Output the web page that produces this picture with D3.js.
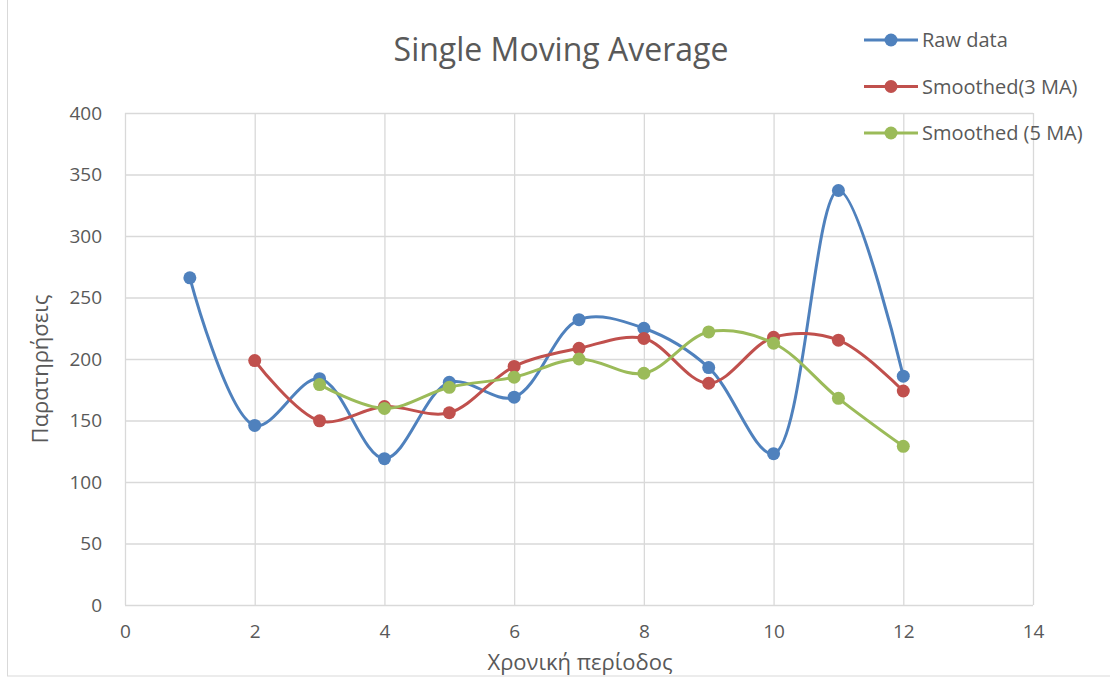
<!DOCTYPE html>
<html>
<head>
<meta charset="utf-8">
<script src="https://cdn.jsdelivr.net/npm/d3@7"></script>
<style>
  body { margin: 0; background: #fff; }
  text { font-family: "Open Sans", "Noto Sans", sans-serif; fill: #595959; }
</style>
</head>
<body>
<svg width="1110" height="679"></svg>
<script>
// chart data
var periods = [1, 2, 3, 4, 5, 6, 7, 8, 9, 10, 11, 12];
var rawData = [266, 146, 184, 119, 181, 169, 232, 225, 193, 123, 337, 186];
var ma3 = [null, 198.7, 149.7, 161.3, 156.3, 194, 208.7, 216.7, 180.3, 217.7, 215.3, 174];
var ma5 = [null, null, 179.2, 159.8, 177, 185.2, 200, 188.4, 222, 212.8, 168, 129];
var xTicks = [0, 2, 4, 6, 8, 10, 12, 14];
var yTicks = [0, 50, 100, 150, 200, 250, 300, 350, 400];
var seriesNames = ["Raw data", "Smoothed(3 MA)", "Smoothed (5 MA)"];
var colors = ["#4f81bd", "#c0504d", "#9bbb59"];

var svg = d3.select("svg");

// outer frame
svg.append("rect")
  .attr("x", 7.5).attr("y", -2)
  .attr("width", 1120).attr("height", 678)
  .attr("fill", "none").attr("stroke", "#d9d9d9");

var pLeft = 125, pRight = 1033, pTop = 113, pBottom = 605;

var x = d3.scaleLinear().domain([0, 14]).range([pLeft, pRight]);
var y = d3.scaleLinear().domain([0, 400]).range([pBottom, pTop]);

// grid
svg.append("g").selectAll("line").data(yTicks).enter().append("line")
  .attr("x1", pLeft).attr("x2", pRight)
  .attr("y1", function(d){ return y(d) + 0.5 }).attr("y2", function(d){ return y(d) + 0.5 })
  .attr("stroke", "#d9d9d9").attr("stroke-width", 1.3);
svg.append("g").selectAll("line").data(xTicks).enter().append("line")
  .attr("x1", function(d){ return x(d) + 0.5 }).attr("x2", function(d){ return x(d) + 0.5 })
  .attr("y1", pTop).attr("y2", pBottom)
  .attr("stroke", "#d9d9d9").attr("stroke-width", 1.3);

// axes
var xAxis = svg.append("g")
  .attr("transform", "translate(0," + pBottom + ")")
  .call(d3.axisBottom(x).tickValues(xTicks).tickSize(0).tickPadding(20));
xAxis.select(".domain").remove();
xAxis.selectAll("text").attr("font-size", "19px").attr("fill", "#595959");

var yAxis = svg.append("g")
  .attr("transform", "translate(" + pLeft + ",0)")
  .call(d3.axisLeft(y).tickValues(yTicks).tickSize(0).tickPadding(23));
yAxis.select(".domain").remove();
yAxis.selectAll("text").attr("font-size", "19px").attr("fill", "#595959");

// titles
svg.append("text").attr("x", 561).attr("y", 61)
  .attr("text-anchor", "middle").attr("font-size", "32px")
  .text("Single Moving Average");
svg.append("text").attr("x", 580).attr("y", 670)
  .attr("text-anchor", "middle").attr("font-size", "22px")
  .text("Χρονική περίοδος");
svg.append("text")
  .attr("transform", "translate(48,369) rotate(-90)")
  .attr("text-anchor", "middle").attr("font-size", "22px")
  .text("Παρατηρήσεις");

// series
var allSeries = [rawData, ma3, ma5];
var line = d3.line()
  .x(function(d){ return x(d.p) })
  .y(function(d){ return y(d.v) })
  .curve(d3.curveCatmullRom.alpha(0.5));

allSeries.forEach(function(vals, i){
  var pts = periods.map(function(p, j){ return {p: p, v: vals[j]} })
    .filter(function(d){ return d.v != null });
  svg.append("path").datum(pts)
    .attr("d", line)
    .attr("fill", "none")
    .attr("stroke", colors[i])
    .attr("stroke-width", 3)
    .attr("stroke-linecap", "round");
  svg.append("g").selectAll("circle").data(pts).enter().append("circle")
    .attr("cx", function(d){ return x(d.p) })
    .attr("cy", function(d){ return y(d.v) })
    .attr("r", 6.5)
    .attr("fill", colors[i]);
});

// legend
var legend = svg.append("g").attr("transform", "translate(864,40)");
seriesNames.forEach(function(name, i){
  var g = legend.append("g").attr("transform", "translate(0," + (i * 46.5) + ")");
  g.append("line").attr("x1", 0).attr("x2", 54).attr("y1", 0).attr("y2", 0)
    .attr("stroke", colors[i]).attr("stroke-width", 3);
  g.append("circle").attr("cx", 27).attr("cy", 0).attr("r", 6.5).attr("fill", colors[i]);
  g.append("text").attr("x", 58).attr("y", 7).attr("font-size", "20px").text(name);
});
</script>
</body>
</html>
